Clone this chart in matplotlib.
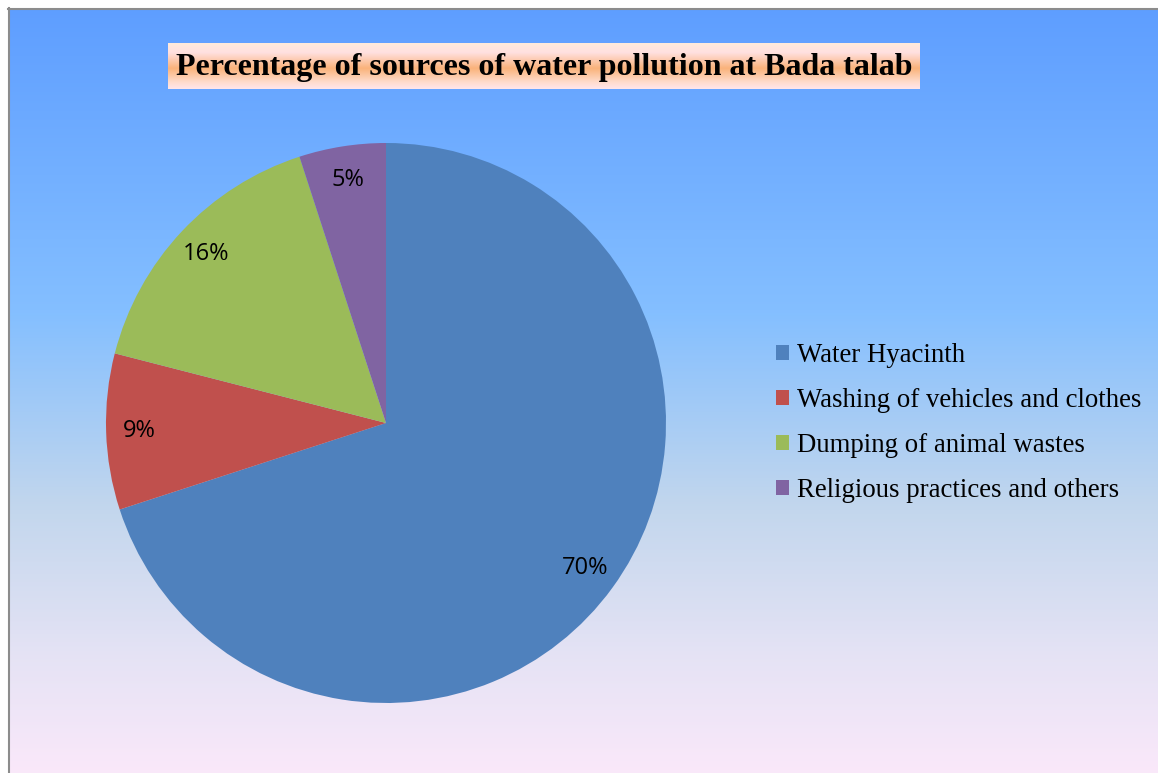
import numpy as np
import matplotlib
matplotlib.use("Agg")
import matplotlib.pyplot as plt
from matplotlib.colors import LinearSegmentedColormap
from matplotlib.patches import Patch
from matplotlib.lines import Line2D

# data
sources = ["Water Hyacinth", "Washing of vehicles and clothes",
           "Dumping of animal wastes", "Religious practices and others"]
shares = [70, 9, 16, 5]
colors = ["#4F81BD", "#C0504D", "#9BBB59", "#8064A2"]
title = "Percentage of sources of water pollution at Bada talab"

W, H = 1158, 773
fig = plt.figure(figsize=(W / 100, H / 100), dpi=100)

# background gradient (blue at top -> pink at bottom)
bg_cmap = LinearSegmentedColormap.from_list("bg", [
    (0.0, (0.37, 0.62, 1.0)),
    (0.40, (0.52, 0.75, 1.0)),
    (0.65, (0.76, 0.84, 0.93)),
    (0.85, (0.90, 0.89, 0.96)),
    (1.0, (0.98, 0.91, 0.98)),
])
bg = fig.add_axes([9 / W, 0, 1 - 9 / W, 1 - 9 / H])
bg.imshow(np.linspace(0, 1, 256).reshape(-1, 1), cmap=bg_cmap, aspect="auto",
          extent=[0, 1, 0, 1])
bg.set_axis_off()
bg.set_zorder(0)

# grey frame on left and top
fig.add_artist(Line2D([8.5 / W, 8.5 / W], [0, 1 - 8 / H], color="#8c8c8c", lw=1.5))
fig.add_artist(Line2D([8 / W, 1], [1 - 8.5 / H, 1 - 8.5 / H], color="#8c8c8c", lw=1.5))

# title box with orange gradient
tx0, tx1, ty0, ty1 = 168, 920, 43, 89
tax = fig.add_axes([tx0 / W, 1 - ty1 / H, (tx1 - tx0) / W, (ty1 - ty0) / H])
t_cmap = LinearSegmentedColormap.from_list("tb", [
    (0.0, (1.0, 0.92, 0.86)),
    (0.2, (1.0, 0.88, 0.88)),
    (0.55, (0.98, 0.70, 0.48)),
    (0.85, (1.0, 0.86, 0.80)),
    (1.0, (1.0, 0.90, 0.92)),
])
tax.imshow(np.linspace(0, 1, 100).reshape(-1, 1), cmap=t_cmap, aspect="auto",
           extent=[0, 1, 0, 1])
tax.text(0.5, 0.47, title, ha="center", va="center", fontsize=23,
         fontweight="bold", family="Liberation Serif", transform=tax.transAxes)
tax.set_axis_off()
tax.set_zorder(2)

# pie
cx, cy, r = 386, 423, 280
ax = fig.add_axes([(cx - r) / W, 1 - (cy + r) / H, 2 * r / W, 2 * r / H])
wedges, _, autotexts = ax.pie(shares, colors=colors, startangle=90, counterclock=False,
                              autopct="%d%%", pctdistance=0.88,
                              wedgeprops=dict(linewidth=0),
                              textprops=dict(fontsize=17, family="Open Sans"))
ax.set_xlim(-1, 1)
ax.set_ylim(-1, 1)
ax.set_aspect("equal")
ax.set_zorder(1)

# legend
handles = [Patch(facecolor=c, edgecolor="none") for c in colors]
fig.legend(handles, sources, loc="center left",
           bbox_to_anchor=(752 / W, 1 - 423 / H), frameon=False,
           prop=dict(family="Liberation Serif", size=19.3),
           handlelength=0.49, handleheight=0.49, handletextpad=0.28,
           labelspacing=0.74)

fig.savefig("out.png", dpi=100)
